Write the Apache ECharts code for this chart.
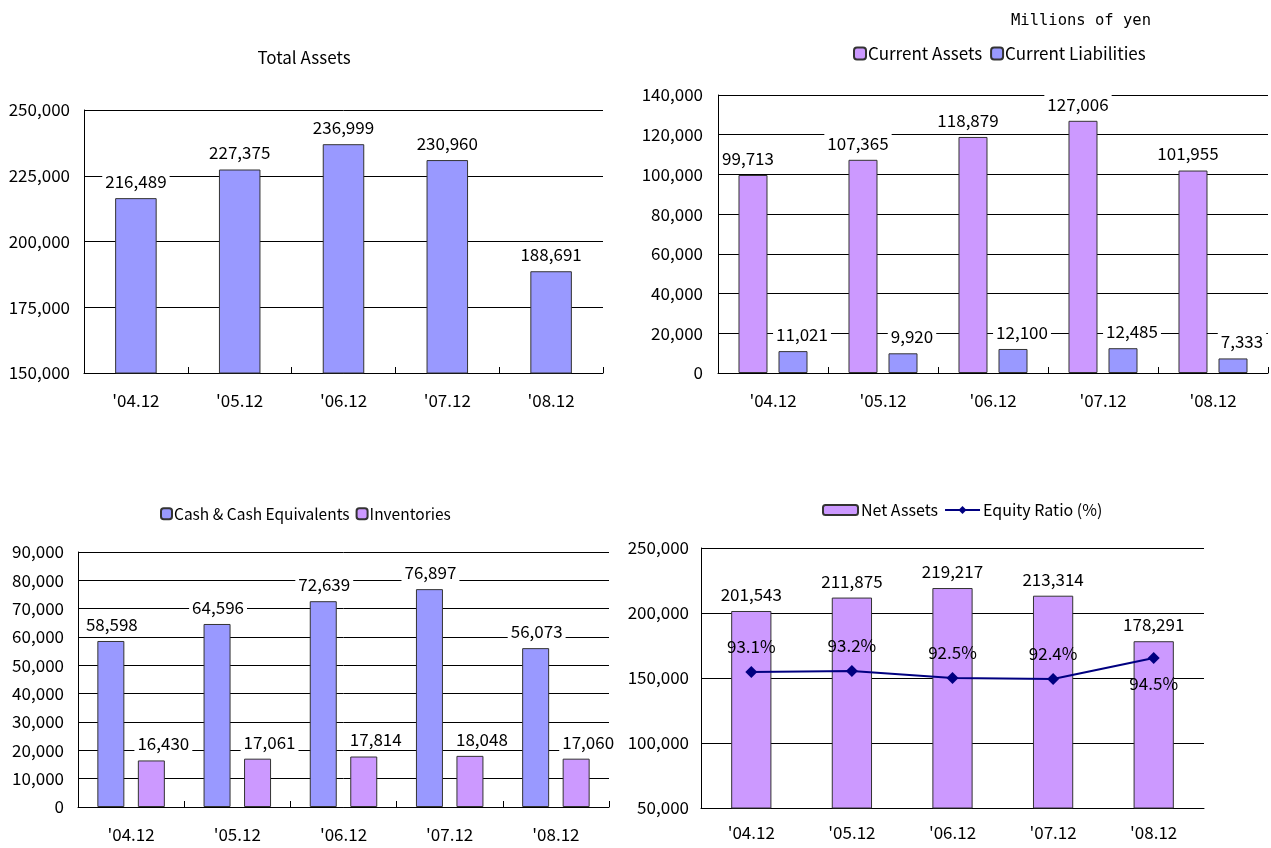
<!DOCTYPE html>
<html><head><meta charset="utf-8">
<script src="https://cdn.jsdelivr.net/npm/echarts@6/dist/echarts.min.js"></script>
<style>html,body{margin:0;padding:0;background:#fff}#c{width:1271px;height:848px}</style>
</head><body><div id="c"></div>
<script>
const categories = ["'04.12", "'05.12", "'06.12", "'07.12", "'08.12"];
const totalAssets = [216489, 227375, 236999, 230960, 188691];
const currentAssets = [99713, 107365, 118879, 127006, 101955];
const currentLiabilities = [11021, 9920, 12100, 12485, 7333];
const cashEquivalents = [58598, 64596, 72639, 76897, 56073];
const inventories = [16430, 17061, 17814, 18048, 17060];
const netAssets = [201543, 211875, 219217, 213314, 178291];
const equityRatio = [93.1, 93.2, 92.5, 92.4, 94.5];

const FONT = "'Noto Sans CJK JP', sans-serif";
const BLUE = '#9999FF', PURPLE = '#CC99FF', NAVY = '#000080';
const fmt = v => String(v).replace(/\B(?=(\d{3})+(?!\d))/g, ',');
const TXT = { color: '#000', fontFamily: FONT, fontSize: 17 };

function xAx(grid, tick, margin) {
  return {
    type: 'category', gridIndex: grid, data: categories,
    axisLine: { lineStyle: { color: '#000', width: 1 } },
    axisTick: { show: tick, inside: true, length: 6, lineStyle: { color: '#000' } },
    axisLabel: Object.assign({ margin: margin }, TXT)
  };
}
function yAx(grid, min, max, interval, margin) {
  return {
    type: 'value', gridIndex: grid, min: min, max: max, interval: interval,
    axisLine: { show: true, lineStyle: { color: '#000', width: 1 } },
    axisTick: { show: false },
    splitLine: { lineStyle: { color: '#000', width: 1 } },
    axisLabel: Object.assign({ margin: margin, formatter: v => fmt(v) }, TXT)
  };
}
function barLabel(dx) {
  return Object.assign({
    show: true, position: 'top', distance: 7, offset: [dx || 0, 0],
    backgroundColor: '#fff', padding: [1, 3],
    formatter: p => fmt(p.value)
  }, TXT);
}
const barStyle = c => ({ color: c, borderColor: '#333', borderWidth: 1 });

const option = {
  backgroundColor: '#fff',
  animation: false,
  textStyle: { fontFamily: FONT },
  title: [
    { text: 'Total Assets', left: 299, top: 44, textAlign: 'center',
      textStyle: { fontFamily: FONT, fontSize: 17, fontWeight: 'normal', color: '#000' } },
    { text: 'Millions of yen', left: 1006, top: 8,
      textStyle: { fontFamily: "'DejaVu Sans Mono', monospace", fontSize: 15.5, fontWeight: 'normal', color: '#000' } }
  ],
  legend: [
    { data: ['Current Assets', 'Current Liabilities'], left: 848, top: 40,
      itemWidth: 12, itemHeight: 12, itemGap: 8,
      textStyle: { fontFamily: FONT, fontSize: 17, color: '#000', padding: [0, 0, 0, -3] } },
    { data: ['Cash & Cash Equivalents', 'Inventories'], left: 155, top: 501,
      itemWidth: 11, itemHeight: 11, itemGap: 6,
      textStyle: { fontFamily: FONT, fontSize: 15.5, color: '#000', padding: [0, 0, 0, -3] } },
    { data: ['Net Assets', { name: 'Equity Ratio (%)' }], left: 817, top: 497,
      itemWidth: 35, itemHeight: 10, itemGap: 6,
      textStyle: { fontFamily: FONT, fontSize: 16, color: '#000', padding: [0, 0, 0, -2] } }
  ],
  grid: [
    { left: 84, top: 110, width: 519, height: 263 },
    { left: 718, top: 95, width: 550, height: 278 },
    { left: 78, top: 552, width: 531, height: 255 },
    { left: 701, top: 548, width: 503, height: 260 }
  ],
  xAxis: [xAx(0, true, 19), xAx(1, true, 19), xAx(2, true, 19), xAx(3, false, 16)],
  yAxis: [
    yAx(0, 150000, 250000, 25000, 14),
    yAx(1, 0, 140000, 20000, 15),
    yAx(2, 0, 90000, 10000, 14),
    yAx(3, 50000, 250000, 50000, 12),
    { type: 'value', gridIndex: 3, min: 79.5, max: 105.5, show: false, splitLine: { show: false } }
  ],
  series: [
    { name: 'Total Assets', type: 'bar', xAxisIndex: 0, yAxisIndex: 0, data: totalAssets,
      barWidth: '40%', itemStyle: barStyle(BLUE), label: barLabel(0) },
    { name: 'Current Assets', type: 'bar', xAxisIndex: 1, yAxisIndex: 1, data: currentAssets,
      barWidth: 29, barGap: '38%', itemStyle: barStyle(PURPLE), label: barLabel(-5) },
    { name: 'Current Liabilities', type: 'bar', xAxisIndex: 1, yAxisIndex: 1, data: currentLiabilities,
      barWidth: 29, barGap: '38%', itemStyle: barStyle(BLUE), label: barLabel(9) },
    { name: 'Cash & Cash Equivalents', type: 'bar', xAxisIndex: 2, yAxisIndex: 2, data: cashEquivalents,
      barWidth: 27, barGap: '50%', itemStyle: barStyle(BLUE), label: barLabel(1) },
    { name: 'Inventories', type: 'bar', xAxisIndex: 2, yAxisIndex: 2, data: inventories,
      barWidth: 27, barGap: '50%', itemStyle: barStyle(PURPLE), label: barLabel(12) },
    { name: 'Net Assets', type: 'bar', xAxisIndex: 3, yAxisIndex: 3, data: netAssets,
      barWidth: '40%', itemStyle: barStyle(PURPLE), label: barLabel(0) },
    { name: 'Equity Ratio (%)', type: 'line', xAxisIndex: 3, yAxisIndex: 4,
      data: equityRatio.map((v, i) => ({
        value: v,
        label: { position: i === 4 ? 'bottom' : 'top' }
      })),
      symbol: 'diamond', symbolSize: 12,
      lineStyle: { color: NAVY, width: 2 }, itemStyle: { color: NAVY },
      label: Object.assign({ show: true, distance: 11, formatter: p => p.value + '%' }, TXT),
      z: 5 }
  ]
};
echarts.init(document.getElementById('c'), null, { renderer: 'canvas' }).setOption(option);
</script>
</body></html>
